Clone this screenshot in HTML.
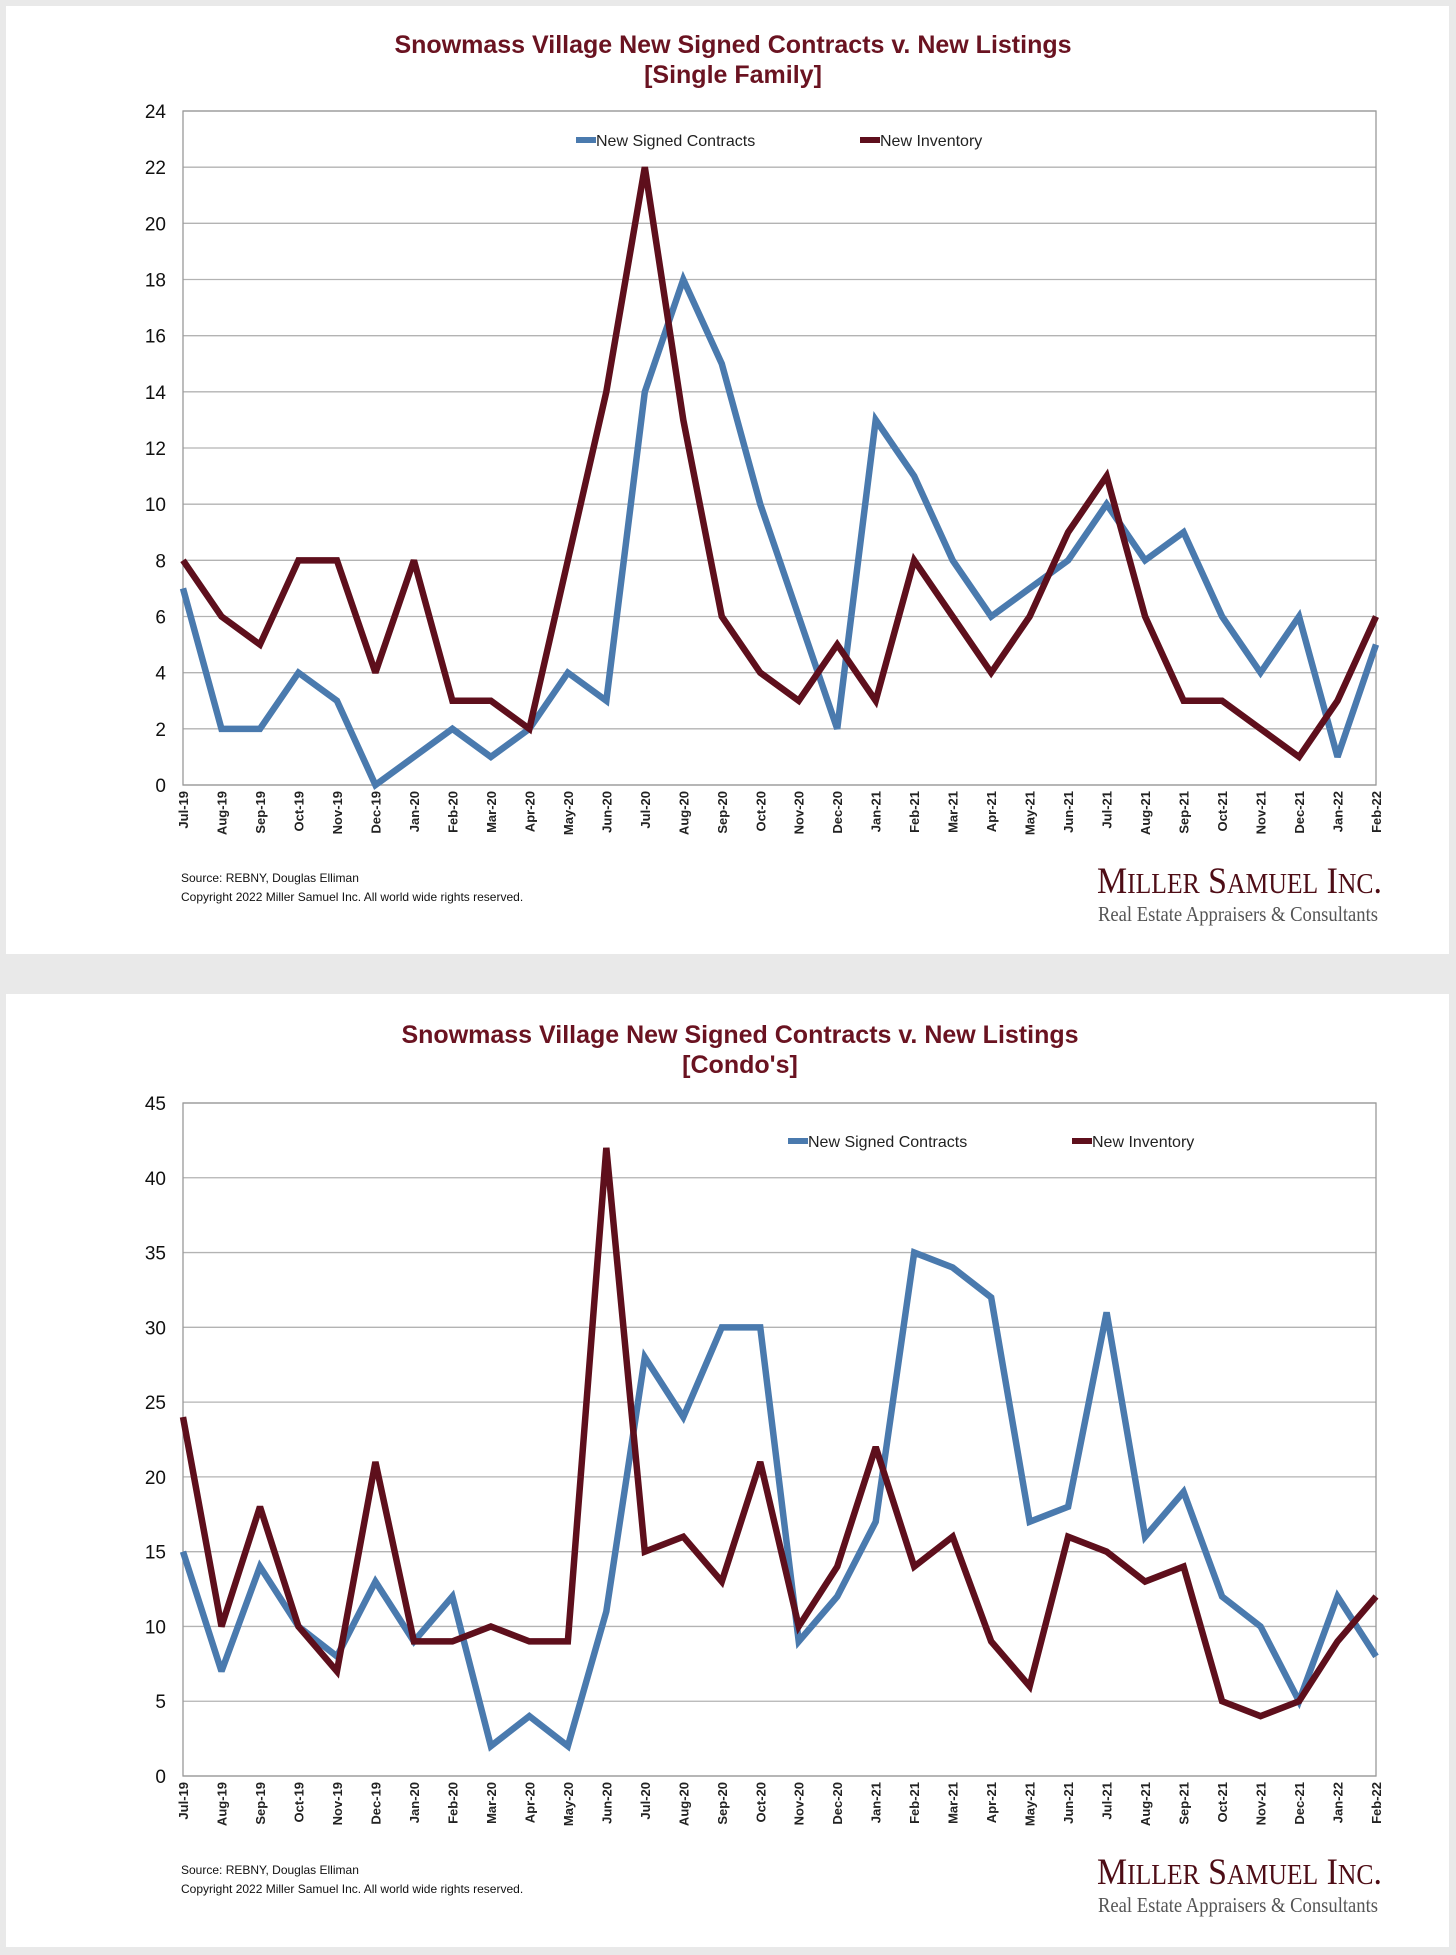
<!DOCTYPE html>
<html><head><meta charset="utf-8"><style>
html,body{margin:0;padding:0;background:#e9e9e9;}
svg{display:block;}
</style></head><body>
<svg id="root" width="1456" height="1955" viewBox="0 0 1456 1955" xmlns="http://www.w3.org/2000/svg" font-family="Liberation Sans, Arial, sans-serif">
<rect x="0" y="0" width="1456" height="1955" fill="#e9e9e9"/>
<g id="c1"></g>
<g id="c2"></g>
</svg>
<script>
const months = ["Jul-19","Aug-19","Sep-19","Oct-19","Nov-19","Dec-19","Jan-20","Feb-20","Mar-20","Apr-20","May-20","Jun-20","Jul-20","Aug-20","Sep-20","Oct-20","Nov-20","Dec-20","Jan-21","Feb-21","Mar-21","Apr-21","May-21","Jun-21","Jul-21","Aug-21","Sep-21","Oct-21","Nov-21","Dec-21","Jan-22","Feb-22"];
const sfContracts = [7,2,2,4,3,0,1,2,1,2,4,3,14,18,15,10,6,2,13,11,8,6,7,8,10,8,9,6,4,6,1,5];
const sfInventory = [8,6,5,8,8,4,8,3,3,2,8,14,22,13,6,4,3,5,3,8,6,4,6,9,11,6,3,3,2,1,3,6];
const sfTicks = [0,2,4,6,8,10,12,14,16,18,20,22,24];
const condoContracts = [15,7,14,10,8,13,9,12,2,4,2,11,28,24,30,30,9,12,17,35,34,32,17,18,31,16,19,12,10,5,12,8];
const condoInventory = [24,10,18,10,7,21,9,9,10,9,9,42,15,16,13,21,10,14,22,14,16,9,6,16,15,13,14,5,4,5,9,12];
const condoTicks = [0,5,10,15,20,25,30,35,40,45];

const NS="http://www.w3.org/2000/svg";
function mk(parent,tag,attrs,text){const e=document.createElementNS(NS,tag);for(const k in attrs)e.setAttribute(k,attrs[k]);if(text!==undefined)e.textContent=text;parent.appendChild(e);return e;}

function drawChart(g,cfg){
  const card=mk(g,'rect',{x:6,y:cfg.cardTop,width:1443,height:cfg.cardH,fill:'#fff'});
  
  
  const t1=mk(g,'text',{x:cfg.titleX,y:cfg.titleY,'text-anchor':'middle','font-size':25,'font-weight':'bold',fill:'#6a1321'},'Snowmass Village New Signed Contracts v. New Listings');
  
  
  const t2=mk(g,'text',{x:cfg.titleX,y:cfg.titleY+30,'text-anchor':'middle','font-size':25,'font-weight':'bold',fill:'#6a1321'},cfg.sub);
  
  
  const L=183,R=1376,T=cfg.top,B=cfg.bottom,max=cfg.max;
  const y=v=>B-(v/max)*(B-T);
  const n=months.length;
  const x=i=>L+i*(R-L)/(n-1);
  cfg.ticks.forEach(tk=>{
    const gl=mk(g,'line',{x1:L,x2:R,y1:y(tk),y2:y(tk),stroke:'#b3b3b3','stroke-width':1.3});
    
    
    const tl=mk(g,'text',{x:166,y:y(tk)+7,'text-anchor':'end','font-size':19,fill:'#111'},String(tk));
    
    
  });
  const fr=mk(g,'rect',{x:L,y:T,width:R-L,height:B-T,fill:'none',stroke:'#999','stroke-width':1.3});
  
  
  months.forEach((m,i)=>{
    const tx=mk(g,'text',{x:0,y:0,'text-anchor':'end','font-size':13,'font-weight':'bold',fill:'#222',transform:`translate(${x(i)+5},${B+6}) rotate(-90)`},m);
    
    
  });
  [[cfg.inv,'#5e0f1c','new-inventory-line'],[cfg.con,'#4a7aae','new-signed-contracts-line']].forEach(([arr,col,name])=>{
    const p=mk(g,'polyline',{points:arr.map((v,i)=>x(i)+','+y(v)).join(' '),fill:'none',stroke:col,'stroke-width':6.5,'stroke-linejoin':'miter','stroke-miterlimit':3});
    
    
  });
  // redraw order: contracts below inventory as in reference (inventory on top)
  const polys=g.querySelectorAll('polyline');g.appendChild(polys[0]);
  [[cfg.lg1,'#4a7aae','New Signed Contracts','legend-contracts'],[cfg.lg2,'#5e0f1c','New Inventory','legend-inventory']].forEach(([lx,col,lab,name])=>{
    const lg=mk(g,'g',{});
    
    
    mk(lg,'line',{x1:lx,x2:lx+20,y1:cfg.lgY,y2:cfg.lgY,stroke:col,'stroke-width':6});
    mk(lg,'text',{x:lx+20,y:cfg.lgY+6,'font-size':16,fill:'#222'},lab);
  });
  const s1=mk(g,'text',{x:181,y:cfg.srcY,'font-size':12,fill:'#111'},'Source: REBNY, Douglas Elliman');
  
  
  const s2=mk(g,'text',{x:181,y:cfg.srcY+19,'font-size':12,fill:'#111'},'Copyright 2022 Miller Samuel Inc.  All world wide rights reserved.');
  
  
  const lo=mk(g,'text',{x:1382,y:cfg.logoY,'text-anchor':'end','font-family':'Liberation Serif, serif','font-size':37,fill:'#4e0d16',textLength:285,lengthAdjust:'spacingAndGlyphs'},'');
  
  
  lo.innerHTML='M<tspan font-size="28">ILLER</tspan> S<tspan font-size="28">AMUEL</tspan> I<tspan font-size="28">NC</tspan>.';
  const ls=mk(g,'text',{x:1378,y:cfg.logoY+28,'text-anchor':'end','font-family':'Liberation Serif, serif','font-size':21,fill:'#555',textLength:280,lengthAdjust:'spacingAndGlyphs'},'Real Estate Appraisers & Consultants');
  
  
}
drawChart(document.getElementById('c1'),{cardTop:6,cardH:948,titleX:733,titleY:53,sub:'[Single Family]',top:111,bottom:785,max:24,ticks:sfTicks,con:sfContracts,inv:sfInventory,lg1:576,lg2:860,lgY:140,srcY:882,logoY:893});
drawChart(document.getElementById('c2'),{cardTop:994,cardH:953,titleX:740,titleY:1043,sub:"[Condo's]",top:1103,bottom:1776,max:45,ticks:condoTicks,con:condoContracts,inv:condoInventory,lg1:788,lg2:1072,lgY:1141,srcY:1874,logoY:1884});
</script>
</body></html>
